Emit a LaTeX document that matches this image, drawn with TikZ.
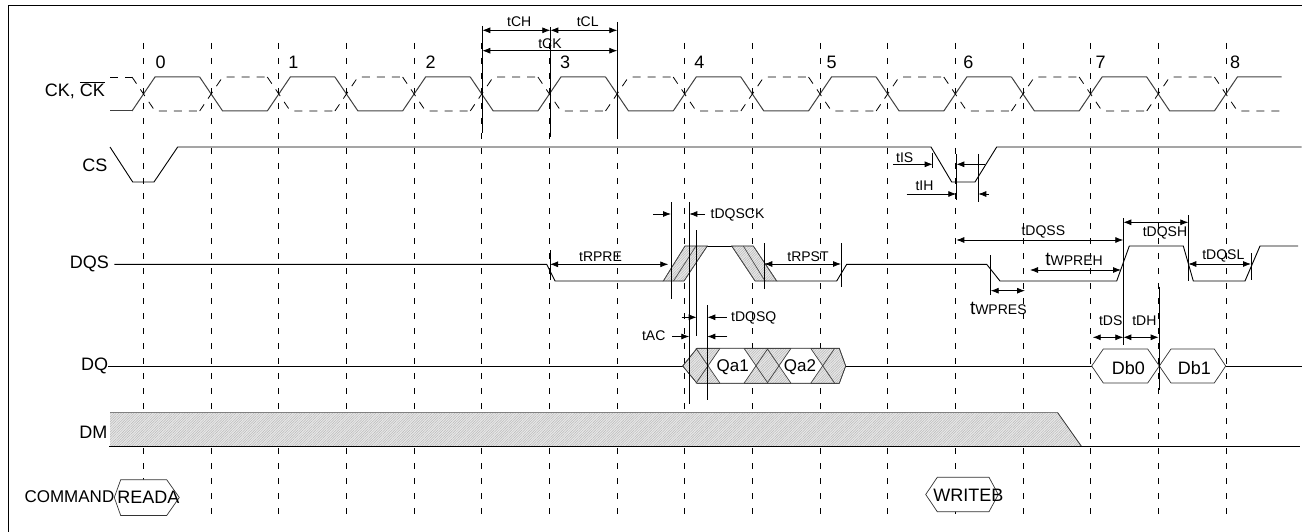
\documentclass[tikz,border=0pt]{standalone}
\usepackage{fontspec}
\setmainfont{Liberation Sans}
\usetikzlibrary{arrows.meta,patterns.meta}
\tikzset{
  sig/.style={line width=0.9pt, black},
  ckline/.style={line width=1pt, black!75},
  ckbar/.style={line width=0.8pt, black, dash pattern=on 8pt off 7pt},
  gridl/.style={line width=0.8pt, black, dash pattern=on 6pt off 9pt},
  vline/.style={line width=0.8pt, black},
  dimr/.style={line width=0.8pt, -{Latex[length=8pt,width=6pt]}},
  dimb/.style={line width=0.8pt, {Latex[length=8pt,width=6pt]}-{Latex[length=8pt,width=6pt]}},
  hatch/.style={preaction={fill=gray!18}, pattern={Lines[angle=45,distance=1.8pt,line width=0.5pt]}, pattern color=gray!55},
  lab/.style={font=\fontsize{18}{20}\selectfont, inner sep=0pt},
  sm/.style={font=\fontsize{14}{16}\selectfont, inner sep=0pt},
}
\begin{document}
\begin{tikzpicture}[x=1pt,y=-1pt]
\useasboundingbox (0,0) rectangle (1302,532);
% frame
\draw[line width=1pt] (8,532) -- (8,6) -- (1302,6);
% grid
\foreach \k in {0,...,16}{
  \draw[gridl] ({143.5+67.65*\k},43) -- ({143.5+67.65*\k},520);
}
% clock
\draw[ckline] (110,111) -- (132,111);
\draw[ckbar] (110,77) -- (132,77);
\foreach \k in {0,...,16}{
  \pgfmathsetmacro\xa{143.5+67.65*\k-11.5}
  \pgfmathsetmacro\xb{143.5+67.65*\k+11.5}
  \pgfmathsetmacro\xc{\k<16 ? 143.5+67.65*(\k+1)-11.5 : 1281.7}
  \pgfmathsetmacro\ya{isodd(\k) ? 77 : 111}
  \pgfmathsetmacro\yb{isodd(\k) ? 111 : 77}
  \draw[ckline] (\xa,\ya) -- (\xb,\yb) -- (\xc,\yb);
  \draw[ckbar] (\xa,\yb) -- (\xb,\ya) -- (\xc,\ya);
}
% clock numbers
\foreach \n/\x in {0/160.7,1/293.3,2/430.7,3/565,4/699.3,5/831.7,6/968.3,7/1100.7,8/1235}{
  \node[lab] (num\n) at (\x,62) {\n};
}
% signal names
\node[lab, anchor=east] (nck) at (105,90) {CK, $\overline{\hbox{CK}}$};
\node[lab, anchor=east] (ncs) at (107.5,165.7) {CS};
\node[lab, anchor=east] (ndqs) at (109,264.3) {DQS};
\node[lab, anchor=east] (ndq) at (108.3,366) {DQ};
\node[lab, anchor=east] (ndm) at (107.5,432.7) {DM};
\node[font=\fontsize{17}{19}\selectfont, inner sep=0pt, anchor=east] (ncmd) at (114.5,497) {COMMAND};
% CS
\draw[sig] (110,147) -- (132.7,182) -- (154,182) -- (177.7,147) -- (931,147) -- (951.7,182) -- (975,182) -- (996.7,147) -- (1301.7,147);
% tCH tCL tCK
\draw[vline] (482.3,26) -- (482.3,133);
\draw[vline] (550.3,27) -- (550.3,137);
\draw[vline] (617.3,22) -- (617.3,137);
\draw[dimb] (482.3,30.3) -- (550.3,30.3);
\draw[dimb] (550.3,30.3) -- (617.3,30.3);
\draw[dimb] (482.3,50.7) -- (617.3,50.7);
\node[sm] (ltch) at (519.3,21.3) {tCH};
\node[sm] (ltcl) at (587.7,21.3) {tCL};
\node[sm] (ltck) at (550,43.3) {tCK};
% tIS tIH
\draw[vline] (932.7,153.3) -- (932.7,168.3);
\draw[dimr] (893.3,164.3) -- (932.7,164.3);
\draw[vline] (956.3,154) -- (956.3,200);
\draw[vline] (978.3,154) -- (978.3,201.7);
\draw[dimr] (985,164.3) -- (956.3,164.3);
\draw[dimr] (906.7,194) -- (956.3,194);
\draw[dimr] (989,194) -- (978.3,194);
\node[sm] (ltis) at (904.7,158) {tIS};
\node[sm] (ltih) at (924.5,185.5) {tIH};
% DQS
\draw[sig] (114.3,264.3) -- (546.7,264.3) -- (555,281) -- (663.3,281);
\draw[sig] (776.7,281) -- (836.7,281) -- (846.7,264.3) -- (986.7,264.3) -- (1000,281) -- (1116.7,281) -- (1129.3,246) -- (1183.3,246) -- (1193.3,281) -- (1245,281) -- (1260,246) -- (1298,246);
\draw[sig] (707.3,246) -- (731.7,246);
\draw[hatch] (663.3,281) -- (684,281) -- (707.3,246) -- (685,246) -- cycle;
\draw[line width=0.7pt, black!70] (663.3,281) -- (684,281) -- (707.3,246) -- (685,246) -- cycle;
\draw[line width=0.7pt, black!70] (673.5,281) -- (696,246);
\draw[hatch] (731.7,246) -- (753.3,246) -- (776.7,281) -- (755,281) -- cycle;
\draw[line width=0.7pt, black!70] (731.7,246) -- (753.3,246) -- (776.7,281) -- (755,281) -- cycle;
\draw[line width=0.7pt, black!70] (743.3,246) -- (765,281);
% DQS timing
\draw[vline] (550,250) -- (550,280);
\draw[dimb] (550,264.3) -- (668.3,264.3);
\node[sm] (ltrpre) at (600.5,256.7) {tRPRE};
\draw[vline] (671,202.3) -- (671,299);
\draw[dimr] (653.3,214) -- (671,214);
\draw[vline] (689.3,202) -- (689.3,404);
\draw[dimr] (705,214) -- (689.3,214);
\node[sm] (ltdqsck) at (737.5,214.5) {tDQSCK};
\draw[vline] (764.3,243) -- (764.3,289.3);
\draw[vline] (841,243) -- (841,287.3);
\draw[dimb] (764.3,264) -- (841,264);
\node[sm] (ltrpst) at (808,256.7) {tRPST};
% tDQSQ tAC
\draw[vline] (696.7,230) -- (696.7,335.7);
\draw[vline] (707.3,305) -- (707.3,400);
\draw[dimr] (681.7,317.3) -- (696.7,317.3);
\draw[dimr] (726.7,317.3) -- (707.3,317.3);
\node[sm] (ltdqsq) at (753.7,318.3) {tDQSQ};
\draw[dimr] (672,336.5) -- (689.3,336.5);
\draw[dimr] (727.3,336.5) -- (707.3,336.5);
\node[sm] (ltac) at (653.7,335.7) {tAC};
% write DQS timing
\draw[vline] (1123.3,218.3) -- (1123.3,345);
\draw[dimb] (956.3,240) -- (1123.3,240);
\node[sm] (ltdqss) at (1043.3,231.7) {tDQSS};
\draw[vline] (1188.3,215) -- (1188.3,280.7);
\draw[dimb] (1123.3,222.3) -- (1188.3,222.3);
\node[sm] (ltdqsh) at (1165,233.3) {tDQSH};
\draw[vline] (1251,253.3) -- (1251,280);
\draw[dimb] (1188.3,264) -- (1251,264);
\node[sm] (ltdqsl) at (1223.3,255.7) {tDQSL};
\draw[dimb] (1030,270) -- (1121,270);
\node[sm] (ltwpreh) at (1074,259.3) {{\fontsize{19}{20}\selectfont t}WPREH};
\draw[vline] (990.7,255) -- (990.7,295);
\draw[dimb] (990.7,290.7) -- (1025,290.7);
\node[sm] (ltwpres) at (998.3,308.3) {{\fontsize{19}{20}\selectfont t}WPRES};
\draw[dimb] (1092.7,337.3) -- (1123.3,337.3);
\draw[dimb] (1123.3,337.3) -- (1158.7,337.3);
\node[sm] (ltds) at (1110.7,321) {tDS};
\node[sm] (ltdh) at (1144.3,321) {tDH};
% DQ
\draw[sig] (108.3,366) -- (682.7,366);
\draw[sig] (845.7,366) -- (1091.7,366);
\draw[sig] (1225.7,366) -- (1301.7,366);
\draw[hatch] (682.7,366) -- (697,348.3) -- (839.3,348.3) -- (845.7,366) -- (839.3,383.3) -- (697,383.3) -- cycle;
\fill[white] (708,366) -- (720,348.3) -- (744,348.3) -- (756,366) -- (744,383.3) -- (720,383.3) -- cycle;
\fill[white] (779,366) -- (791,348.3) -- (810.7,348.3) -- (822.7,366) -- (810.7,383.3) -- (791,383.3) -- cycle;
\draw[line width=0.7pt, black!75] (682.7,366) -- (697,348.3) -- (839.3,348.3) -- (845.7,366) -- (839.3,383.3) -- (697,383.3) -- cycle;
\foreach \c in {708,756,779,822.7}{
  \draw[line width=0.7pt, black!75] (\c-12,348.3) -- (\c+12,383.3);
  \draw[line width=0.7pt, black!75] (\c-12,383.3) -- (\c+12,348.3);
}
\draw[vline] (689.3,340) -- (689.3,404);
\draw[vline] (707.3,340) -- (707.3,400);
\node[font=\fontsize{17}{19}\selectfont, inner sep=0pt] (qa1) at (732.7,367) {Qa1};
\node[font=\fontsize{17}{19}\selectfont, inner sep=0pt] (qa2) at (800,367) {Qa2};
\draw[line width=0.7pt, black!80, fill=white] (1091.7,366) -- (1103.3,349) -- (1147.7,349) -- (1159.3,366) -- (1147.7,383) -- (1103.3,383) -- cycle;
\draw[line width=0.7pt, black!80, fill=white] (1159.3,366) -- (1171,349) -- (1214.3,349) -- (1225.7,366) -- (1214.3,383) -- (1171,383) -- cycle;
\draw[vline] (1159.3,286.7) -- (1159.3,390);
\node[lab] (db0) at (1128.3,367.7) {Db0};
\node[lab] (db1) at (1194.3,367.7) {Db1};
% DM
\fill[hatch] (110,412.7) -- (1057.7,412.7) -- (1081.7,446.7) -- (110,446.7) -- cycle;
\draw[line width=1pt, gray] (110,412.7) -- (1057.7,412.7);
\draw[line width=0.8pt, black!80] (1057.7,412.7) -- (1081.7,446.7);
\draw[sig] (109,446.7) -- (1300,446.7);
% COMMAND
\draw[line width=0.7pt, black!80, fill=white] (114.3,497.5) -- (120.7,479.7) -- (166.7,479.7) -- (179.3,497.5) -- (166.7,515.5) -- (120.7,515.5) -- cycle;
\node[lab] (reada) at (148.3,497.5) {READA};
\draw[line width=0.7pt, black!80, fill=white] (925.7,494.5) -- (937.3,477.3) -- (989,477.3) -- (998.3,494.5) -- (989,511.7) -- (937.3,511.7) -- cycle;
\node[lab] (writeb) at (968.3,495.5) {WRITEB};
\end{tikzpicture}
\end{document}
